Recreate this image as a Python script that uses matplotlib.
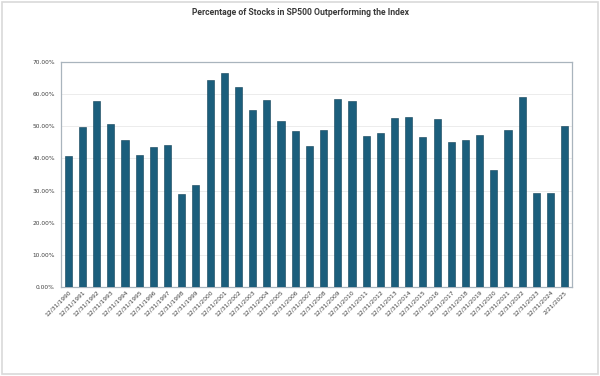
import matplotlib.pyplot as plt
from matplotlib.patches import Rectangle
from matplotlib.ticker import FuncFormatter

# Data
dates = ['12/31/%d' % y for y in range(1990, 2025)] + ['2/21/2025']
pct = [40.7, 49.7, 57.9, 50.8, 45.6, 41.0, 43.4, 44.2, 29.0, 31.7,
       64.3, 66.6, 62.3, 55.2, 58.1, 51.7, 48.6, 44.0, 48.9, 58.5,
       57.9, 47.1, 47.9, 52.7, 52.9, 46.7, 52.2, 45.1, 45.6, 47.2,
       36.4, 48.75, 59.0, 29.1, 29.3, 50.0]
yticks = [0, 10, 20, 30, 40, 50, 60, 70]

BAR_COLOR = '#1b5e7c'

fig = plt.figure(figsize=(6, 3.76), dpi=100)
fig.patch.set_facecolor('white')
# light chart-area border
fig.patches.append(Rectangle((0.003, 0.004), 0.994, 0.992, transform=fig.transFigure,
                             fill=False, edgecolor='#d9d9d9', linewidth=1.2))

ax = fig.add_axes([0.102, 0.237, 0.851, 0.598])
x = range(len(pct))
ax.bar(x, pct, width=0.5, color=BAR_COLOR, edgecolor='#0f3f55', linewidth=0.4, zorder=3)

ax.set_xlim(-0.5, len(pct) - 0.5)
ax.set_ylim(0, 70)
ax.set_yticks(yticks)
ax.yaxis.set_major_formatter(FuncFormatter(lambda v, p: '%.2f%%' % v))
ax.set_xticks(list(x))
ax.set_xticklabels(dates, rotation=45, ha='right', rotation_mode='anchor', fontsize=4.3, color='#404040')
ax.tick_params(axis='y', labelsize=4.2, labelcolor='#404040', length=0, pad=4.5)
ax.tick_params(axis='x', length=0, pad=2)

ax.grid(axis='y', color='#ececec', linewidth=0.7, zorder=0)
for s in ax.spines.values():
    s.set_color('#a9b4bd')
    s.set_linewidth(0.9)

fig.text(0.5, 0.966, 'Percentage of Stocks in SP500 Outperforming the Index',
         ha='center', va='center', fontsize=6.2, fontweight='bold', color='#3a3a3a',
         family=['Roboto', 'DejaVu Sans'])

fig.savefig('out.png', dpi=100)
